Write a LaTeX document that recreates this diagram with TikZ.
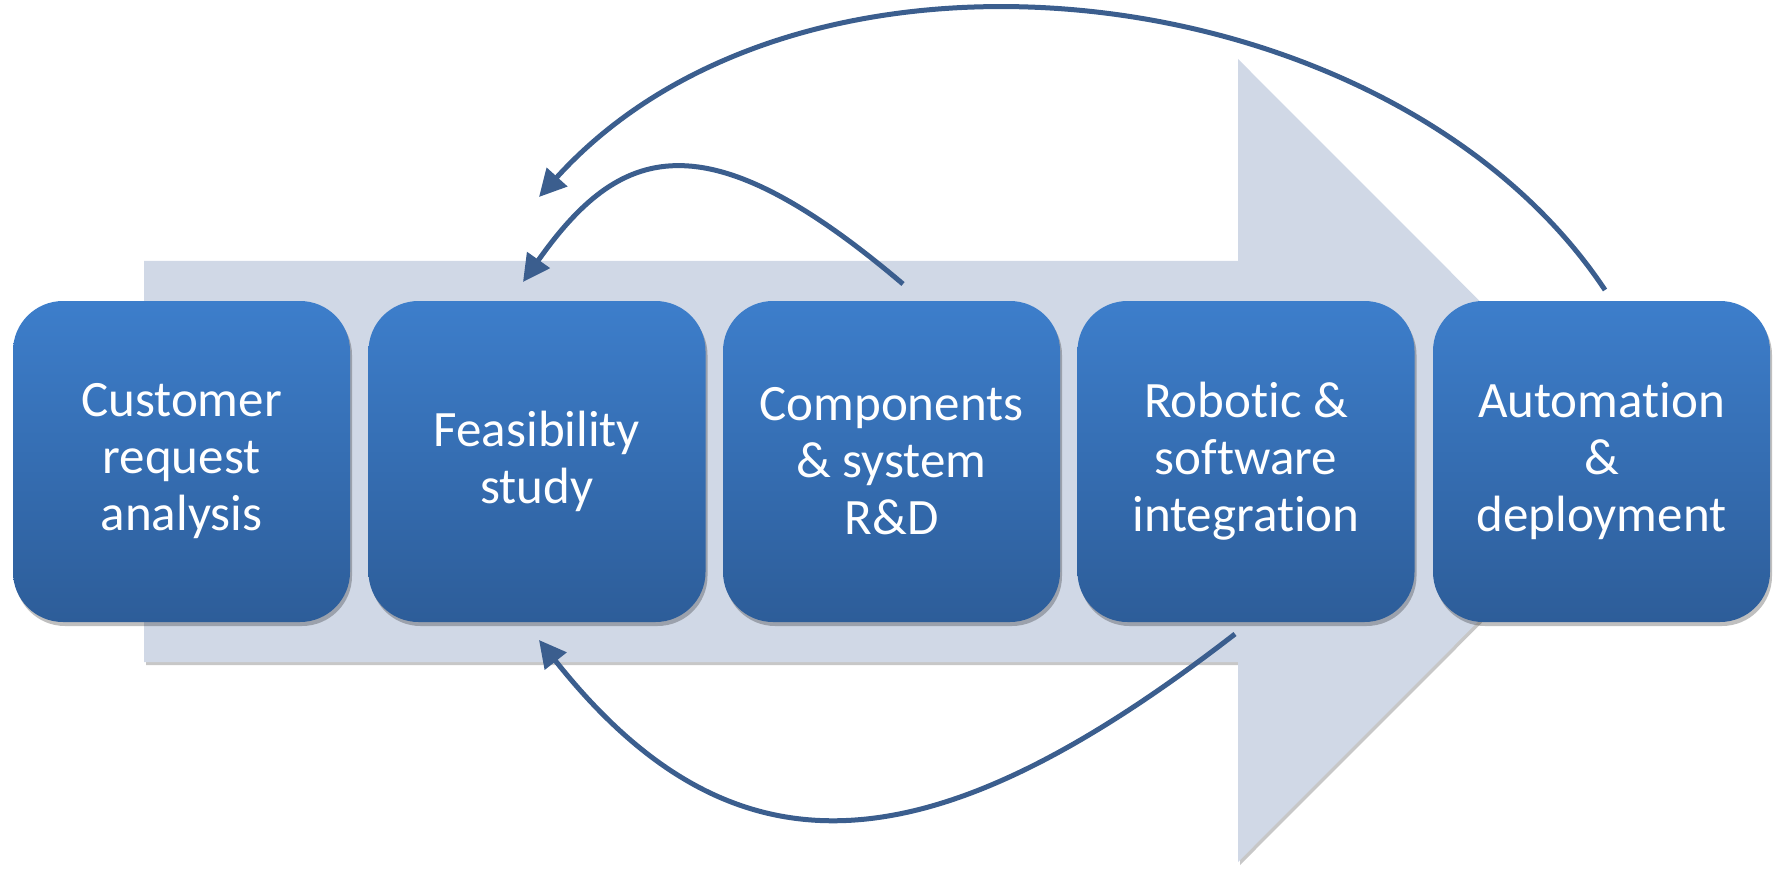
\documentclass[tikz,border=0pt]{standalone}
\usepackage{fontspec}
\setmainfont{Carlito}[Ligatures=NoCommon]
\usetikzlibrary{arrows.meta,shadows}
\definecolor{boxtop}{RGB}{61,126,203}
\definecolor{boxbot}{RGB}{45,93,153}
\definecolor{flowfill}{RGB}{208,216,230}
\definecolor{linkcol}{RGB}{59,94,142}
\tikzset{
  stage/.style={rounded corners=50pt, minimum width=337pt, minimum height=321pt,
    top color=boxtop, bottom color=boxbot, draw=none, text=white, align=center,
    font=\fontsize{51}{57}\selectfont,
    drop shadow={shadow xshift=2pt, shadow yshift=-4pt, opacity=0.25, fill=black}},
  link/.style={draw=linkcol, line width=5pt, -{Triangle[length=27pt,width=27pt]}},
}
\begin{document}
\begin{tikzpicture}[x=1pt,y=-1pt]
\useasboundingbox (0,0) rectangle (1781,869);
% process arrow in the background
\fill[black, opacity=0.22] (146,264) -- (1240,264) -- (1240,62) -- (1641,463.5) -- (1240,865) -- (1240,665) -- (146,665) -- cycle;
\fill[flowfill] (144,261) -- (1238,261) -- (1238,59) -- (1639,460.5) -- (1238,862) -- (1238,662) -- (144,662) -- cycle;
% stages
\node[stage] (b1) at (181.5,461.5) {Customer\\request\\analysis};
\node[stage] (b2) at (537,461.5) {Feasibility\\study};
\node[stage] (b3) at (891.5,461.5) {Components\\\& system\\R\&D};
\node[stage] (b4) at (1246,461.5) {Robotic \&\\software\\integration};
\node[stage] (b5) at (1601.5,461.5) {Automation\\\&\\deployment};
% feedback loops
\coordinate (c1s) at (903,284);
\coordinate (c1e) at (523,282);
\coordinate (c2s) at (1605,290);
\coordinate (c2e) at (539,197);
\coordinate (c3s) at (1235,634);
\coordinate (c3e) at (539,640);
\draw[link] (c1s) .. controls (703,114) and (619,146) .. (c1e);
\draw[link] (c2s) .. controls (1396,-25) and (807,-99) .. (c2e);
\draw[link] (c3s) .. controls (935,866) and (737,890) .. (c3e);
\end{tikzpicture}
\end{document}
